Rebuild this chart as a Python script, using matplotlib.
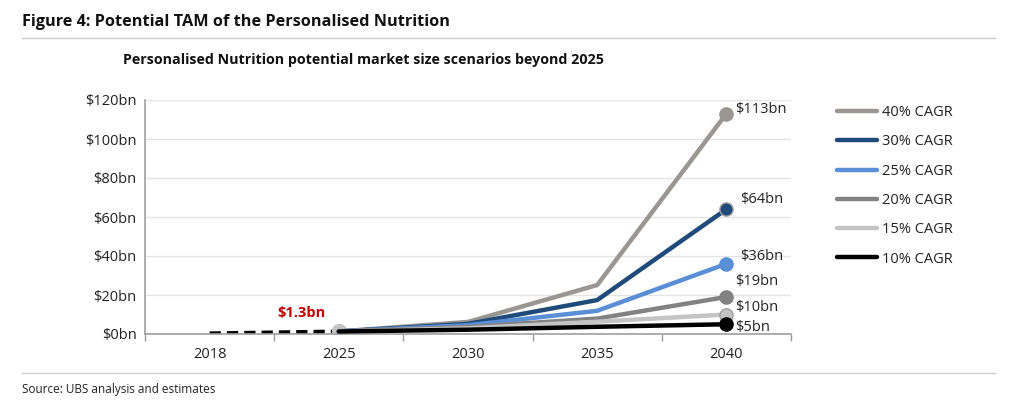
import matplotlib
matplotlib.use("Agg")
import matplotlib.pyplot as plt
import numpy as np

plt.rcParams['font.family'] = ['Open Sans', 'DejaVu Sans']

years = ["2018", "2025", "2030", "2035", "2040"]
series_names = ["40% CAGR", "30% CAGR", "25% CAGR", "20% CAGR", "15% CAGR", "10% CAGR"]
cagr_40 = [np.nan, 1.3, 6.2, 25.1, 113]
cagr_30 = [np.nan, 1.3, 5.2, 17.4, 64]
cagr_25 = [np.nan, 1.3, 4.5, 11.9, 36]
cagr_20 = [np.nan, 1.3, 3.6, 7.9, 19]
cagr_15 = [np.nan, 1.3, 2.9, 6.3, 10]
cagr_10 = [np.nan, 1.3, 2.2, 3.7, 5]
historic = [0.3, 1.3, np.nan, np.nan, np.nan]
end_labels = ["$113bn", "$64bn", "$36bn", "$19bn", "$10bn", "$5bn"]
start_label = "$1.3bn"
y_ticks = [0, 20, 40, 60, 80, 100, 120]
y_tick_labels = ["$0bn", "$20bn", "$40bn", "$60bn", "$80bn", "$100bn", "$120bn"]

colors = ["#9A9692", "#1F4A7A", "#5A8FD8", "#828282", "#C4C4C4", "#000000"]
all_series = [cagr_40, cagr_30, cagr_25, cagr_20, cagr_15, cagr_10]
label_offsets = [(6, 3), (10, 7), (10, 5), (6, 11), (6, 5), (6, -2)]

fig = plt.figure(figsize=(10.24, 4.0), dpi=100)
ax = fig.add_axes([145/1024, 1-334/400, (791-145)/1024, (334-100)/400])

x = np.arange(len(years))

ax.plot(x, historic, color="black", lw=2.9, ls=(0, (2.8, 1.5)), zorder=2)
ax.plot([x[1]], [historic[1]], 'o', color="#C4C4C4", ms=10, zorder=2.5)

for name, vals, c in zip(series_names, all_series, colors):
    ax.plot(x, vals, color=c, lw=3.2, label=name, solid_capstyle='round', zorder=3)
    ax.plot([x[-1]], [vals[-1]], 'o', color=c, ms=9.5,
            mec="#A0A0A0" if c in ("#1F4A7A", "#C4C4C4") else c, mew=1, zorder=4)

for vals, lab, off in zip(all_series, end_labels, label_offsets):
    ax.annotate(lab, (x[-1], vals[-1]), xytext=off, textcoords='offset points',
                fontsize=10.5, color="#222222", ha='left', va='center')

ax.annotate(start_label, (x[1], historic[1]), xytext=(-27, 13), textcoords='offset points',
            fontsize=10.5, color="#C00000", fontweight='bold', ha='center', va='center')

ax.set_xlim(-0.5, len(years) - 0.5)
ax.set_ylim(0, 120)
ax.set_yticks(y_ticks)
ax.set_yticklabels(y_tick_labels, fontsize=10.5, color="#222222")
ax.set_xticks(x)
ax.set_xticklabels(years, fontsize=10.5, color="#222222")
ax.set_xticks(np.arange(-0.5, len(years)), minor=True)
ax.tick_params(axis='x', which='major', length=0, pad=9)
ax.tick_params(axis='x', which='minor', length=5, color="#999999", width=1, direction='out')
ax.tick_params(axis='y', length=0, pad=6)
ax.grid(axis='y', color="#E4E4E4", lw=1)
ax.set_axisbelow(True)
for s in ["top", "right"]:
    ax.spines[s].set_visible(False)
for s in ["left", "bottom"]:
    ax.spines[s].set_color("#A0A0A0")
    ax.spines[s].set_linewidth(1.2)

handles, labels = ax.get_legend_handles_labels()
fig.legend(handles, labels, loc='upper left', bbox_to_anchor=(824/1024, 1-92/400),
           frameon=False, fontsize=10.5, handlelength=2.7, handletextpad=0.35,
           labelspacing=0.98, labelcolor="#222222")

fig.text(22/1024, 1-22/400, "Figure 4: Potential TAM of the Personalised Nutrition",
         fontsize=11.7, fontweight='bold', va='center', ha='left', color="#111111")
fig.text(123/1024, 1-60/400, "Personalised Nutrition potential market size scenarios beyond 2025",
         fontsize=10.3, fontweight='bold', va='center', ha='left', color="#111111")
fig.text(22/1024, 1-390/400, "Source: UBS analysis and estimates",
         fontsize=8.5, va='center', ha='left', color="#222222")
fig.add_artist(plt.Line2D([22/1024, 995/1024], [1-38/400, 1-38/400], color="#CCCCCC", lw=1))
fig.add_artist(plt.Line2D([22/1024, 995/1024], [1-373/400, 1-373/400], color="#CCCCCC", lw=1))

fig.savefig("out.png", dpi=100)
